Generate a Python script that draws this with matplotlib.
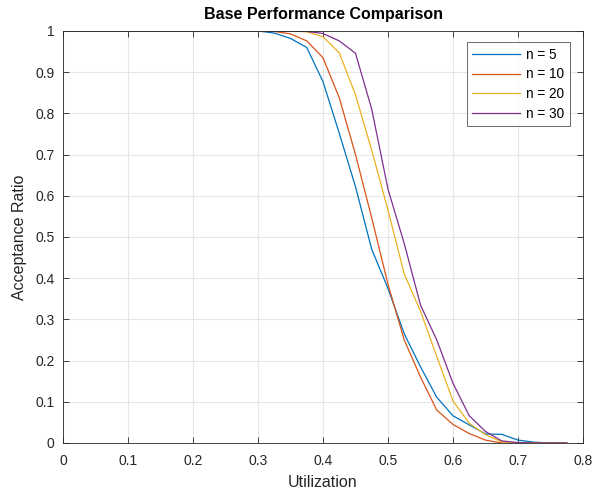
import matplotlib
matplotlib.use("Agg")
import matplotlib.pyplot as plt
import numpy as np

plt.rcParams['font.family'] = ['Liberation Sans', 'DejaVu Sans']

utilization = [0.0, 0.025, 0.05, 0.075, 0.1, 0.125, 0.15, 0.175, 0.2, 0.225,
               0.25, 0.275, 0.3, 0.325, 0.35, 0.375, 0.4, 0.425, 0.45, 0.475,
               0.5, 0.525, 0.55, 0.575, 0.6, 0.625, 0.65, 0.675, 0.7, 0.725,
               0.75, 0.775]

n5 = [1, 1, 1, 1, 1, 1, 1, 1, 1, 1, 1, 1, 1, 0.995, 0.982, 0.96, 0.877, 0.752,
      0.622, 0.47, 0.375, 0.265, 0.185, 0.111, 0.066, 0.044, 0.022, 0.021,
      0.007, 0.002, 0.0, 0.0]
n10 = [1, 1, 1, 1, 1, 1, 1, 1, 1, 1, 1, 1, 1, 0.999, 0.993, 0.976, 0.935, 0.838,
       0.70, 0.546, 0.385, 0.25, 0.16, 0.08, 0.045, 0.023, 0.007, 0.0,
       0.0, 0.0, 0.0, 0.0]
n20 = [1, 1, 1, 1, 1, 1, 1, 1, 1, 1, 1, 1, 1, 1, 1, 0.998, 0.986, 0.947,
       0.845, 0.71, 0.565, 0.41, 0.32, 0.21, 0.102, 0.048, 0.02, 0.003,
       0.0, 0.0, 0.0, 0.0]
n30 = [1, 1, 1, 1, 1, 1, 1, 1, 1, 1, 1, 1, 1, 1, 1, 0.999, 0.994, 0.976,
       0.946, 0.81, 0.616, 0.484, 0.335, 0.25, 0.145, 0.066, 0.028, 0.005,
       0.001, 0.0, 0.0, 0.0]

series = [("n = 5", n5, "#0072BD"), ("n = 10", n10, "#D95319"),
          ("n = 20", n20, "#EDB120"), ("n = 30", n30, "#7E2F8E")]

fig = plt.figure(figsize=(5.96, 4.95), dpi=100)
ax = fig.add_axes([63/596, 52/495, 520/596, 412/495])

for label, vals, col in series:
    ax.plot(utilization, vals, color=col, lw=0.9, label=label)

ax.set_xlim(0, 0.8)
ax.set_ylim(0, 1)
xt = np.round(np.arange(0, 0.81, 0.1), 1)
yt = np.round(np.arange(0, 1.01, 0.1), 1)
ax.set_xticks(xt)
ax.set_yticks(yt)
ax.set_xticklabels(["0" if v == 0 else ("1" if v == 1 else f"{v:g}") for v in xt])
ax.set_yticklabels(["0" if v == 0 else ("1" if v == 1 else f"{v:g}") for v in yt])
ax.tick_params(direction='in', length=4, width=0.6, labelsize=10, colors='#262626',
               top=True, right=True, pad=6)
ax.tick_params(axis='x', pad=8)
ax.grid(True, color='#e6e6e6', lw=0.8)
ax.set_axisbelow(True)
for s in ax.spines.values():
    s.set_color('#262626')
    s.set_linewidth(0.6)

ax.set_xlabel("Utilization", fontsize=11.5, color='#262626', labelpad=5)
ax.set_ylabel("Acceptance Ratio", fontsize=11.5, color='#262626', labelpad=6)
ax.set_title("Base Performance Comparison", fontsize=11.5, fontweight='bold', pad=9)

leg = ax.legend(loc='upper right', bbox_to_anchor=(0.975, 0.973), borderaxespad=0,
                fontsize=9.8, frameon=True, fancybox=False, edgecolor='#262626',
                handlelength=3.5, borderpad=0.4, labelspacing=0.42, handletextpad=0.5)
leg.get_frame().set_linewidth(0.6)

fig.savefig("out.png", dpi=100)
